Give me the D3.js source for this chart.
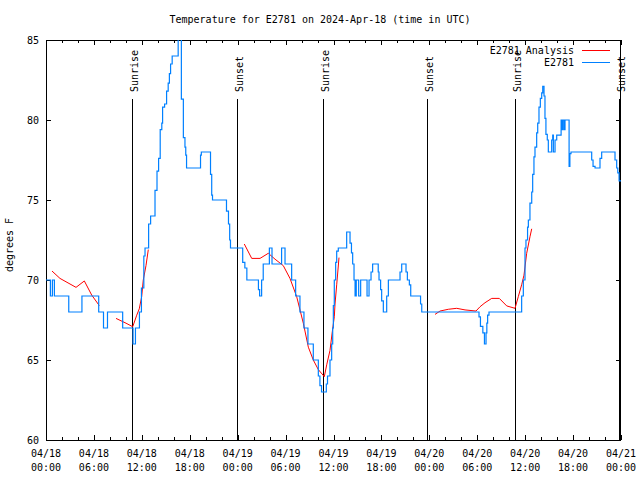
<!DOCTYPE html>
<html>
<head>
<meta charset="utf-8">
<script src="https://cdn.jsdelivr.net/npm/d3@7"></script>
<style>
  html, body { margin: 0; padding: 0; background: #fff; }
  svg { display: block; }
  text { font-family: "DejaVu Sans Mono", "Liberation Mono", monospace; font-size: 10px; fill: #000; }
</style>
</head>
<body>
<script>
// ---- Data (hours since 2024-04-18 00:00 UTC) ----
const chartTitle = "Temperature for E2781 on 2024-Apr-18 (time in UTC)";
const yLabel = "degrees F";
const seriesNames = ["E2781 Analysis", "E2781"];
const seriesColors = ["#ff0000", "#0080ff"];

const obsHours = [0, 0.55, 0.8, 1.05, 2.85, 4.5, 6.6, 7.2, 7.7, 9.6, 10.9, 11.2, 11.7, 11.95, 12.25, 12.4, 12.85, 13.1, 13.65, 13.9,
  14.1, 14.3, 14.5, 14.6, 14.85, 15.1, 15.3, 15.45, 15.6, 15.8, 16.55, 16.95, 17.2, 17.4, 17.5, 17.6, 19.35, 19.45, 20.6, 20.75,
  20.85, 22.6, 22.85, 23.0, 23.1, 24.63, 24.9, 25.15, 26.6, 26.75, 27.0, 27.2, 27.97, 28.3, 29.5, 29.93, 30.76, 31.26, 31.8, 32.3,
  32.8, 33.47, 34.1, 34.3, 34.5, 35.1, 35.25, 35.56, 35.77, 35.9, 35.98, 36.1, 36.27, 36.4, 36.6, 37.65, 38.07, 38.25, 38.4, 38.57,
  38.7, 38.85, 39.15, 39.4, 40.2, 40.45, 40.7, 40.9, 41.6, 41.7, 41.9, 42.03, 42.24, 42.66, 42.87, 44.33, 44.54, 45.08, 45.25, 45.5,
  45.67, 46.9, 47.05, 54.22, 54.4, 54.7, 54.9, 55.1, 55.2, 55.3, 55.47, 59.56, 59.77, 59.98, 60.1, 60.3, 60.4, 60.6, 60.82, 60.94,
  61.1, 61.23, 61.44, 61.57, 61.73, 61.9, 62.07, 62.2, 62.36, 62.48, 62.6, 62.77, 62.9, 63.32, 63.45, 63.53, 63.74, 63.95, 64.5, 64.57,
  64.7, 64.86, 64.99, 65.5, 65.6, 65.74, 68.33, 68.5, 68.75, 69.37, 69.58, 71.25, 71.46, 71.6, 71.76, 72];
const obsTemps = [70, 69, 70, 69, 68, 69, 68, 67, 68, 67, 66, 67, 68, 69.5, 71.5, 72, 73.5, 74, 75.6, 76.8,
  77.6, 79.4, 79.8, 80.8, 81, 81.8, 82.3, 82.9, 83.5, 84, 85.5, 81.3, 78.9, 78.3, 77.8, 77, 77.8, 78, 76.6, 75.3,
  75, 74.3, 73.5, 72.5, 72, 71.1, 70.75, 70, 69.4, 69, 70, 71, 72, 71, 72, 71, 70, 69, 68, 67,
  66, 65, 64, 63.4, 63, 63.5, 64, 65, 66, 67, 68.4, 70, 71.1, 71.8, 72, 73, 72.3, 71.7, 71, 70,
  69, 70, 69, 70, 69, 70, 70.5, 71, 70.5, 70, 69.4, 68.7, 68, 69, 70, 70.5, 71, 70.5, 70, 69.7,
  69, 68.5, 68, 67.7, 67.1, 66.7, 66, 66.7, 67.3, 67.8, 68, 69, 70, 72, 72.5, 73.3, 73.75, 74.8, 75.5, 76.6,
  77.7, 78.3, 79.2, 79.8, 80.8, 81.35, 81.7, 82.1, 81.5, 80.1, 79.1, 78.75, 78, 78.75, 79.06, 78, 78.75, 79.06, 80, 79.4,
  80, 79.4, 80, 77.1, 77.9, 78, 77.5, 77.1, 77, 77.6, 78, 77.5, 77, 76.7, 76.2, 76.2];

// analysis series; null marks a gap
const anaHours = [0.75, 1.75, 3.76, 4.8, 5.72, 6.67, 7.7,
  8.77, 10.02, 10.86, 11.36, 11.68, 11.98, 12.18, 12.52, 12.81, 18,
  24.83, 25.76, 26.8, 27.84, 28.68, 29.71, 30.55, 31.39, 32.22, 32.85, 33.47, 34.1, 34.85, 35.15, 35.56, 35.85, 36.1, 36.19, 36.4, 36.69, 42,
  48.71, 49.34, 50.38, 51.43, 52.47, 53.84, 54.35, 54.97, 55.81, 56.76, 57.69, 58.73, 59.14, 59.56, 59.85, 60.19, 60.6, 60.82];
const anaTemps = [70.56, 70.1, 69.54, 69.94, 69.06, 68.4, null,
  67.6, 67.3, 67.08, 67.8, 68.2, 68.96, 70, 70.9, 71.9, null,
  72.25, 71.35, 71.35, 71.67, 71.3, 70.9, 70.1, 68.96, 67.3, 65.8, 65, 64.4, 63.96, 64.7, 65.6, 66.77, 67.7, 68.5, 69.7, 71.4, null,
  67.85, 68.06, 68.17, 68.23, 68.13, 68.06, 68.33, 68.58, 68.85, 68.85, 68.38, 68.23, 68.96, 69.7, 70.3, 71.67, 72.7, 73.2];

const sunLabels = ["Sunrise", "Sunset", "Sunrise", "Sunset", "Sunrise", "Sunset"];
const sunHours = [10.81, 23.88, 34.73, 47.75, 58.77, 71.8];

const yTicks = [60, 65, 70, 75, 80, 85];

// ---- Layout ----
const W = 640, H = 480;
const L = 46, R = 621, T = 40, B = 440;
const t0 = Date.UTC(2024, 3, 18, 0, 0);
const toDate = h => new Date(t0 + h * 3600000);

const x = d3.scaleUtc().domain([toDate(0), toDate(72)]).range([L, R]);
const y = d3.scaleLinear().domain([60, 85]).range([B, T]);

const svg = d3.select("body").append("svg").attr("width", W).attr("height", H);

svg.append("defs").append("clipPath").attr("id", "plotclip")
  .append("rect").attr("x", L).attr("y", T).attr("width", R - L).attr("height", B - T);

// title
svg.append("text").attr("x", 320).attr("y", 23).attr("text-anchor", "middle").text(chartTitle);

// y label
svg.append("text").attr("transform", `translate(13,245) rotate(-90)`).attr("text-anchor", "middle").text(yLabel);

const g = svg.append("g").attr("shape-rendering", "crispEdges");

// ticks
const majorTicks = x.ticks(d3.utcHour.every(6));
const minorTicks = x.ticks(d3.utcHour.every(2)).filter(d => d.getUTCHours() % 6 !== 0);
const px = v => Math.round(v) + 0.5;

minorTicks.forEach(d => {
  const xx = px(x(d));
  g.append("line").attr("x1", xx).attr("x2", xx).attr("y1", B).attr("y2", B - 3).attr("stroke", "#000");
  g.append("line").attr("x1", xx).attr("x2", xx).attr("y1", T).attr("y2", T + 3).attr("stroke", "#000");
});
majorTicks.forEach(d => {
  const xx = px(x(d));
  g.append("line").attr("x1", xx).attr("x2", xx).attr("y1", B).attr("y2", B - 5).attr("stroke", "#000");
  g.append("line").attr("x1", xx).attr("x2", xx).attr("y1", T).attr("y2", T + 5).attr("stroke", "#000");
  const t = svg.append("text").attr("text-anchor", "middle");
  t.append("tspan").attr("x", x(d)).attr("y", 457).text(d3.utcFormat("%m/%d")(d));
  t.append("tspan").attr("x", x(d)).attr("y", 471).text(d3.utcFormat("%H:%M")(d));
});
yTicks.forEach(v => {
  const yy = px(y(v));
  g.append("line").attr("x1", L).attr("x2", L + 5).attr("y1", yy).attr("y2", yy).attr("stroke", "#000");
  g.append("line").attr("x1", R - 5).attr("x2", R).attr("y1", yy).attr("y2", yy).attr("stroke", "#000");
  svg.append("text").attr("x", 39).attr("y", y(v)).attr("dy", "0.35em").attr("text-anchor", "end").text(v);
});

// sunrise / sunset lines
sunHours.forEach((h, i) => {
  const xx = px(x(toDate(h)));
  g.append("line").attr("x1", xx).attr("x2", xx).attr("y1", 99).attr("y2", B).attr("stroke", "#000");
  svg.append("text").attr("transform", `translate(${xx + 5},92) rotate(-90)`).attr("text-anchor", "start").text(sunLabels[i]);
});

// border
g.append("rect").attr("x", L + 0.5).attr("y", T + 0.5).attr("width", R - L - 1).attr("height", B - T)
  .attr("fill", "none").attr("stroke", "#000");

// data
const plot = svg.append("g").attr("clip-path", "url(#plotclip)");

const anaData = anaHours.map((h, i) => ({ t: toDate(h), v: anaTemps[i] }));
const obsData = obsHours.map((h, i) => ({ t: toDate(h), v: obsTemps[i] }));

plot.append("path").datum(anaData)
  .attr("d", d3.line().defined(d => d.v !== null).x(d => x(d.t)).y(d => y(d.v)))
  .attr("fill", "none").attr("stroke", seriesColors[0]).attr("stroke-width", 1);

plot.append("path").datum(obsData)
  .attr("d", d3.line().curve(d3.curveStepAfter).x(d => x(d.t)).y(d => y(d.v)))
  .attr("fill", "none").attr("stroke", seriesColors[1]).attr("stroke-width", 1.2);

// legend
const legY = [50, 62];
seriesNames.forEach((n, i) => {
  svg.append("text").attr("x", 574).attr("y", legY[i]).attr("dy", "0.35em").attr("text-anchor", "end").text(n);
  svg.append("line").attr("x1", 582).attr("x2", 610).attr("y1", legY[i] + 0.5).attr("y2", legY[i] + 0.5)
    .attr("stroke", seriesColors[i]).attr("stroke-width", 1).attr("shape-rendering", "crispEdges");
});
</script>
</body>
</html>
